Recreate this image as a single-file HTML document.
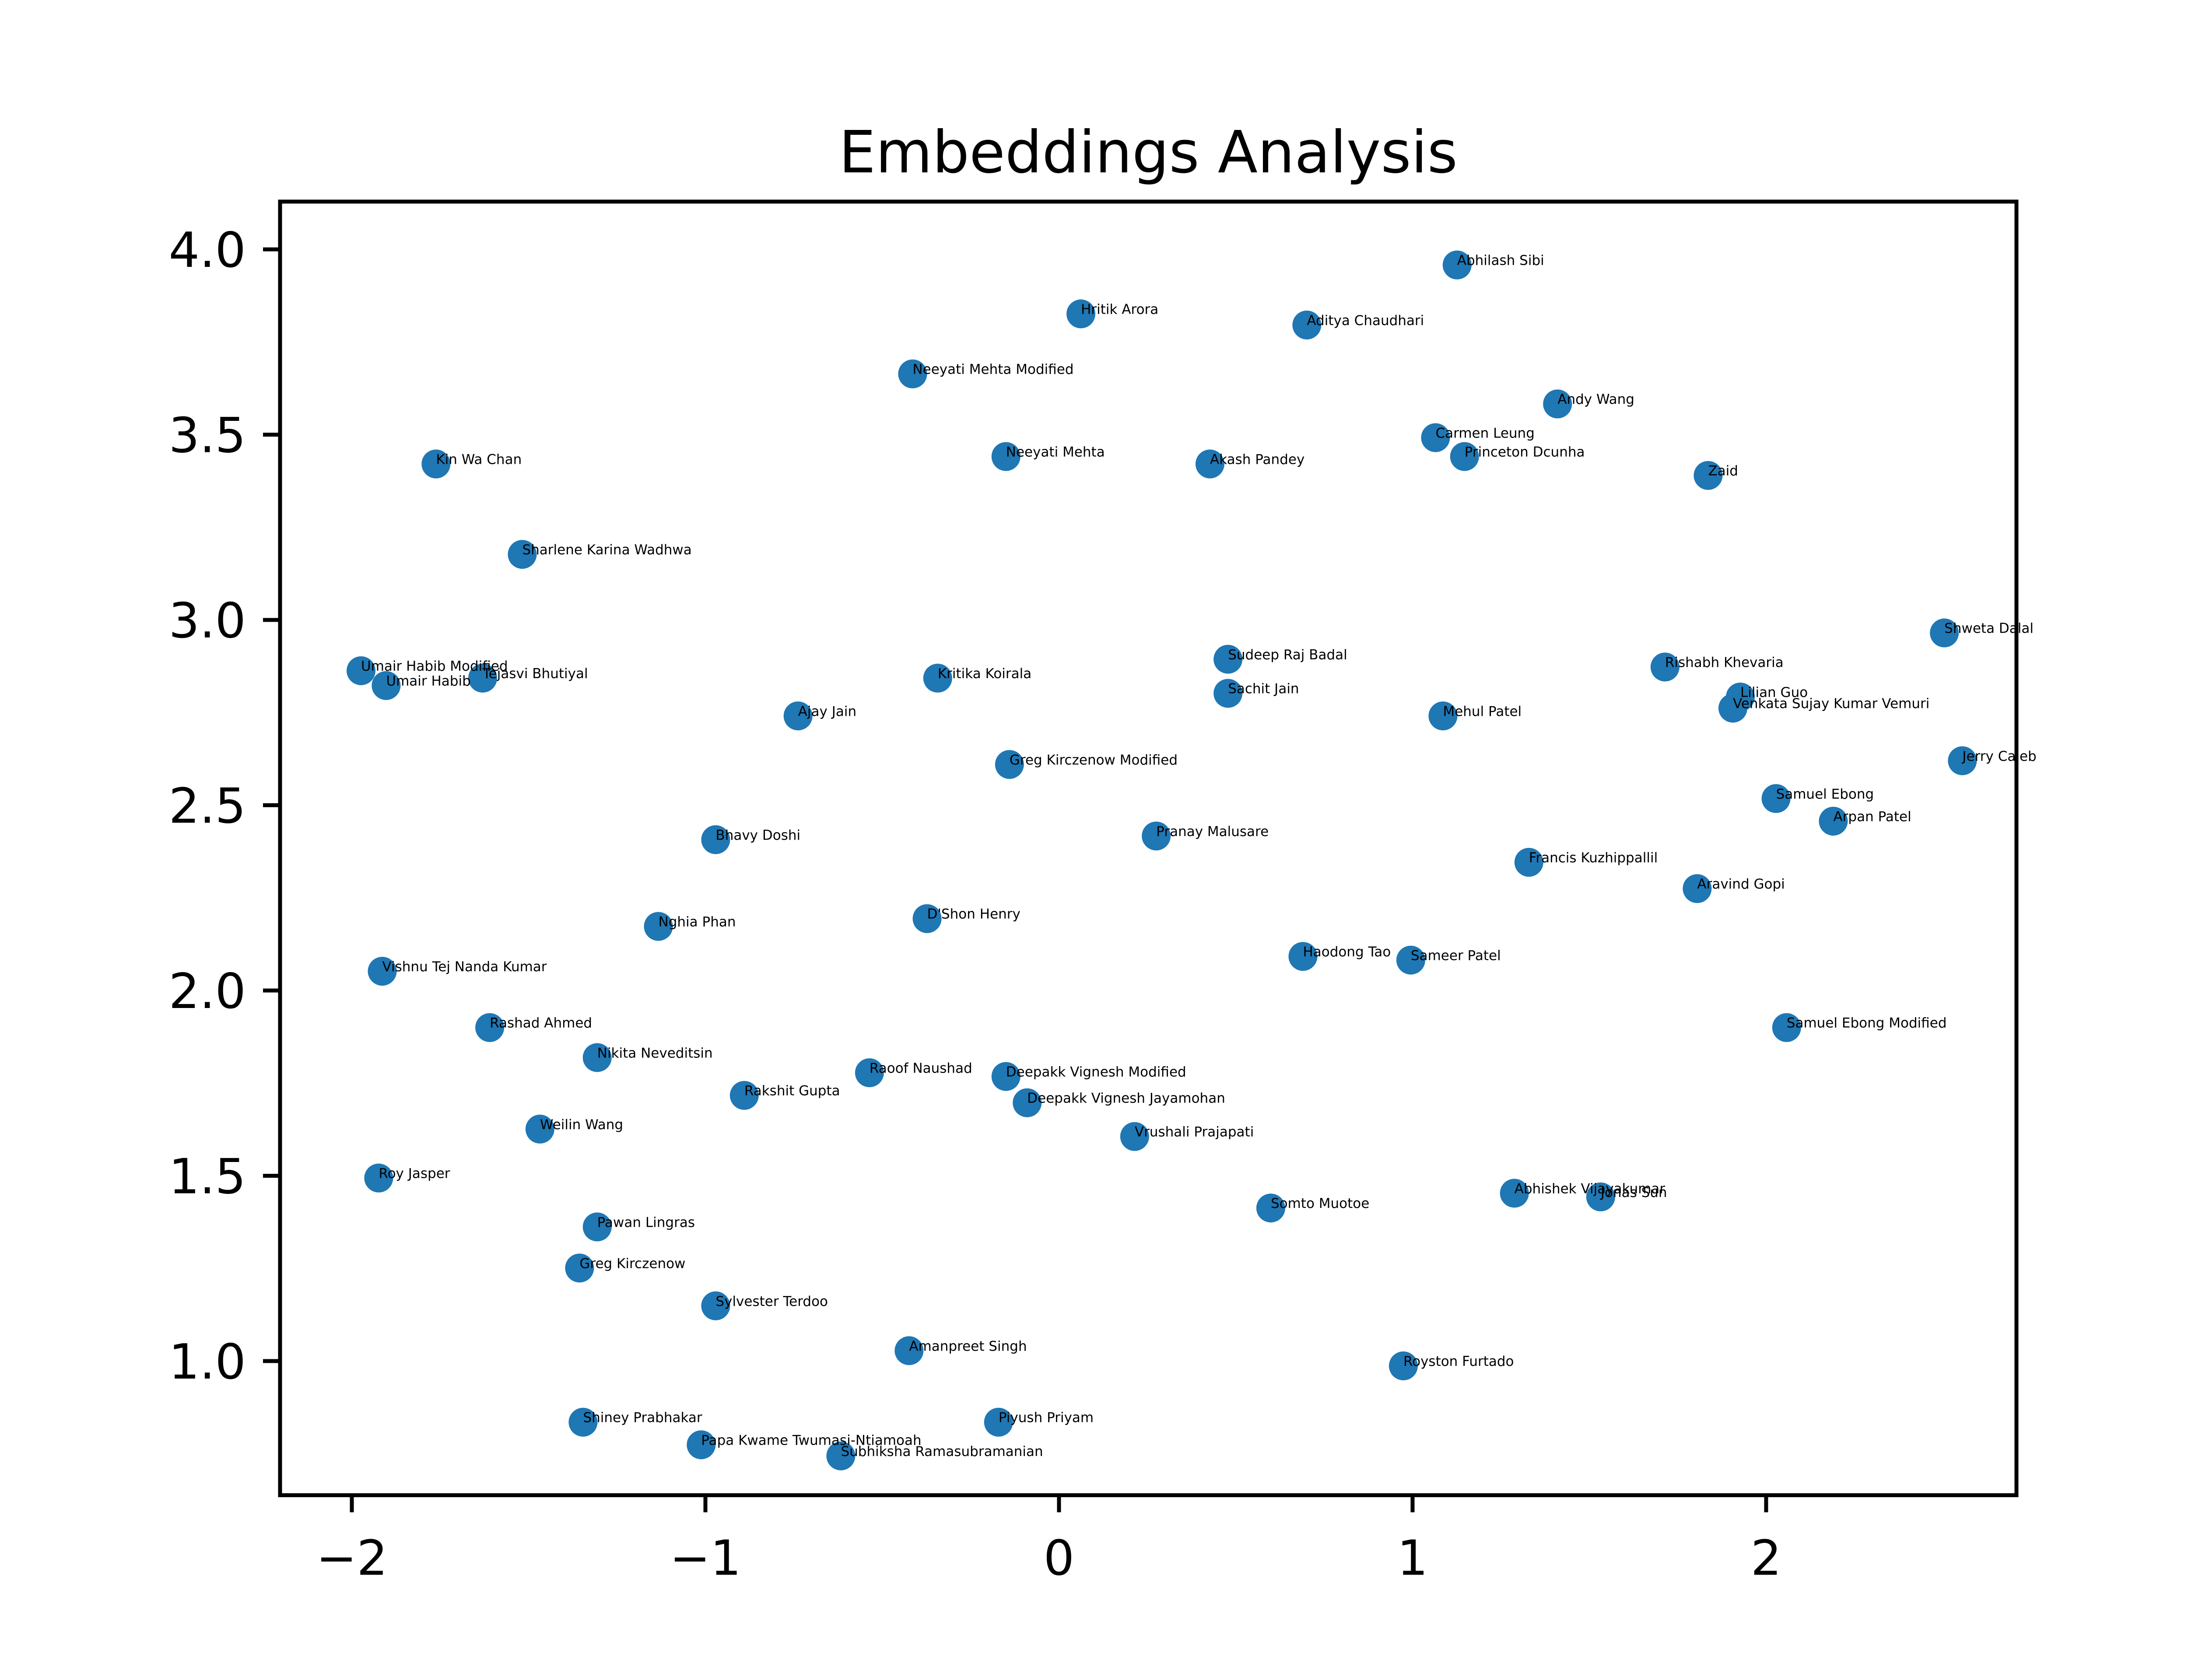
<!DOCTYPE html>
<html><head><meta charset="utf-8"><style>
html,body{margin:0;padding:0;background:#fff;}
svg{display:block;}
text{font-family:"DejaVu Sans","Liberation Sans",sans-serif;}
</style></head><body>
<svg id="chart" width="5120" height="3840" viewBox="0 0 5120 3840" xmlns="http://www.w3.org/2000/svg">
<rect width="5120" height="3840" fill="#fff"/>
<text x="2624" y="394" font-size="133" text-anchor="middle">Embeddings Analysis</text>
<g id="marks"></g>
<g id="labels"></g>
<g id="axes"></g>
</svg>
<script>
const names = ["Abhilash Sibi","Hritik Arora","Aditya Chaudhari","Neeyati Mehta Modified","Andy Wang","Carmen Leung","Princeton Dcunha","Kin Wa Chan","Neeyati Mehta","Akash Pandey","Zaid","Sharlene Karina Wadhwa","Shweta Dalal","Umair Habib Modified","Umair Habib","Tejasvi Bhutiyal","Sudeep Raj Badal","Rishabh Khevaria","Kritika Koirala","Sachit Jain","Lilian Guo","Venkata Sujay Kumar Vemuri","Ajay Jain","Mehul Patel","Jerry Caleb","Greg Kirczenow Modified","Samuel Ebong","Arpan Patel","Bhavy Doshi","Pranay Malusare","Francis Kuzhippallil","Aravind Gopi","Nghia Phan","D'Shon Henry","Haodong Tao","Sameer Patel","Vishnu Tej Nanda Kumar","Rashad Ahmed","Samuel Ebong Modified","Nikita Neveditsin","Raoof Naushad","Deepakk Vignesh Modified","Rakshit Gupta","Deepakk Vignesh Jayamohan","Weilin Wang","Vrushali Prajapati","Roy Jasper","Abhishek Vijayakumar","Jonas Sun","Somto Muotoe","Pawan Lingras","Greg Kirczenow","Sylvester Terdoo","Amanpreet Singh","Royston Furtado","Piyush Priyam","Shiney Prabhakar","Papa Kwame Twumasi-Ntiamoah","Subhiksha Ramasubramanian"];
const xValues = [1.126,0.062,0.701,-0.414,1.410,1.065,1.147,-1.762,-0.150,0.427,1.836,-1.518,2.504,-1.974,-1.903,-1.630,0.478,1.714,-0.343,0.478,1.927,1.906,-0.738,1.086,2.555,-0.140,2.028,2.190,-0.971,0.275,1.329,1.805,-1.133,-0.373,0.690,0.995,-1.914,-1.610,2.058,-1.306,-0.536,-0.150,-0.890,-0.090,-1.468,0.214,-1.924,1.288,1.532,0.599,-1.306,-1.356,-0.971,-0.424,0.974,-0.171,-1.346,-1.012,-0.617];
const yValues = [3.958,3.826,3.796,3.664,3.583,3.492,3.441,3.421,3.441,3.421,3.390,3.177,2.965,2.863,2.823,2.843,2.894,2.873,2.843,2.802,2.792,2.762,2.741,2.741,2.620,2.610,2.518,2.457,2.407,2.417,2.346,2.275,2.173,2.194,2.092,2.082,2.052,1.900,1.900,1.819,1.778,1.768,1.717,1.697,1.626,1.606,1.494,1.453,1.443,1.413,1.362,1.251,1.149,1.028,0.987,0.835,0.835,0.774,0.744];
const xTicks = [-2,-1,0,1,2];
const yTicks = [1.0,1.5,2.0,2.5,3.0,3.5,4.0];

const L=640,R=4608,T=460.8,B=3417.6;
const xMin=-2.203,xMax=2.708,yMin=0.638,yMax=4.129;
const sx=v=>L+(v-xMin)/(xMax-xMin)*(R-L);
const sy=v=>B-(v-yMin)/(yMax-yMin)*(B-T);
const NS="http://www.w3.org/2000/svg";
const mk=(t,a,p)=>{const e=document.createElementNS(NS,t);for(const k in a)e.setAttribute(k,a[k]);p.appendChild(e);return e;};
const marks=document.getElementById('marks'),labels=document.getElementById('labels'),axes=document.getElementById('axes');
for(let i=0;i<names.length;i++){
  const c=mk('circle',{cx:sx(xValues[i]),cy:sy(yValues[i]),r:33,fill:'#1f77b4'},marks);
  
  
}
for(let i=0;i<names.length;i++){
  const t=mk('text',{x:sx(xValues[i]),y:sy(yValues[i]),'font-size':31,fill:'#000'},labels);
  t.textContent=names[i];
  
  
}
const fr=mk('rect',{x:L,y:T,width:R-L,height:B-T,fill:'none',stroke:'#000','stroke-width':9},axes);


const fmt=v=>(v<0?'\u2212':'')+Math.abs(v);
xTicks.forEach(v=>{
  const x=sx(v);
  const l=mk('line',{x1:x,x2:x,y1:B,y2:B+39,stroke:'#000','stroke-width':9},axes);
  
  
  const t=mk('text',{x:x,y:B+78+104,'font-size':111,'text-anchor':'middle'},axes);
  t.textContent=fmt(v);
  
  
});
yTicks.forEach(v=>{
  const y=sy(v);
  const l=mk('line',{x1:L-39,x2:L,y1:y,y2:y,stroke:'#000','stroke-width':9},axes);
  
  
  const t=mk('text',{x:L-78,y:y+40,'font-size':111,'text-anchor':'end'},axes);
  t.textContent=v.toFixed(1);
  
  
});
</script>
</body></html>
